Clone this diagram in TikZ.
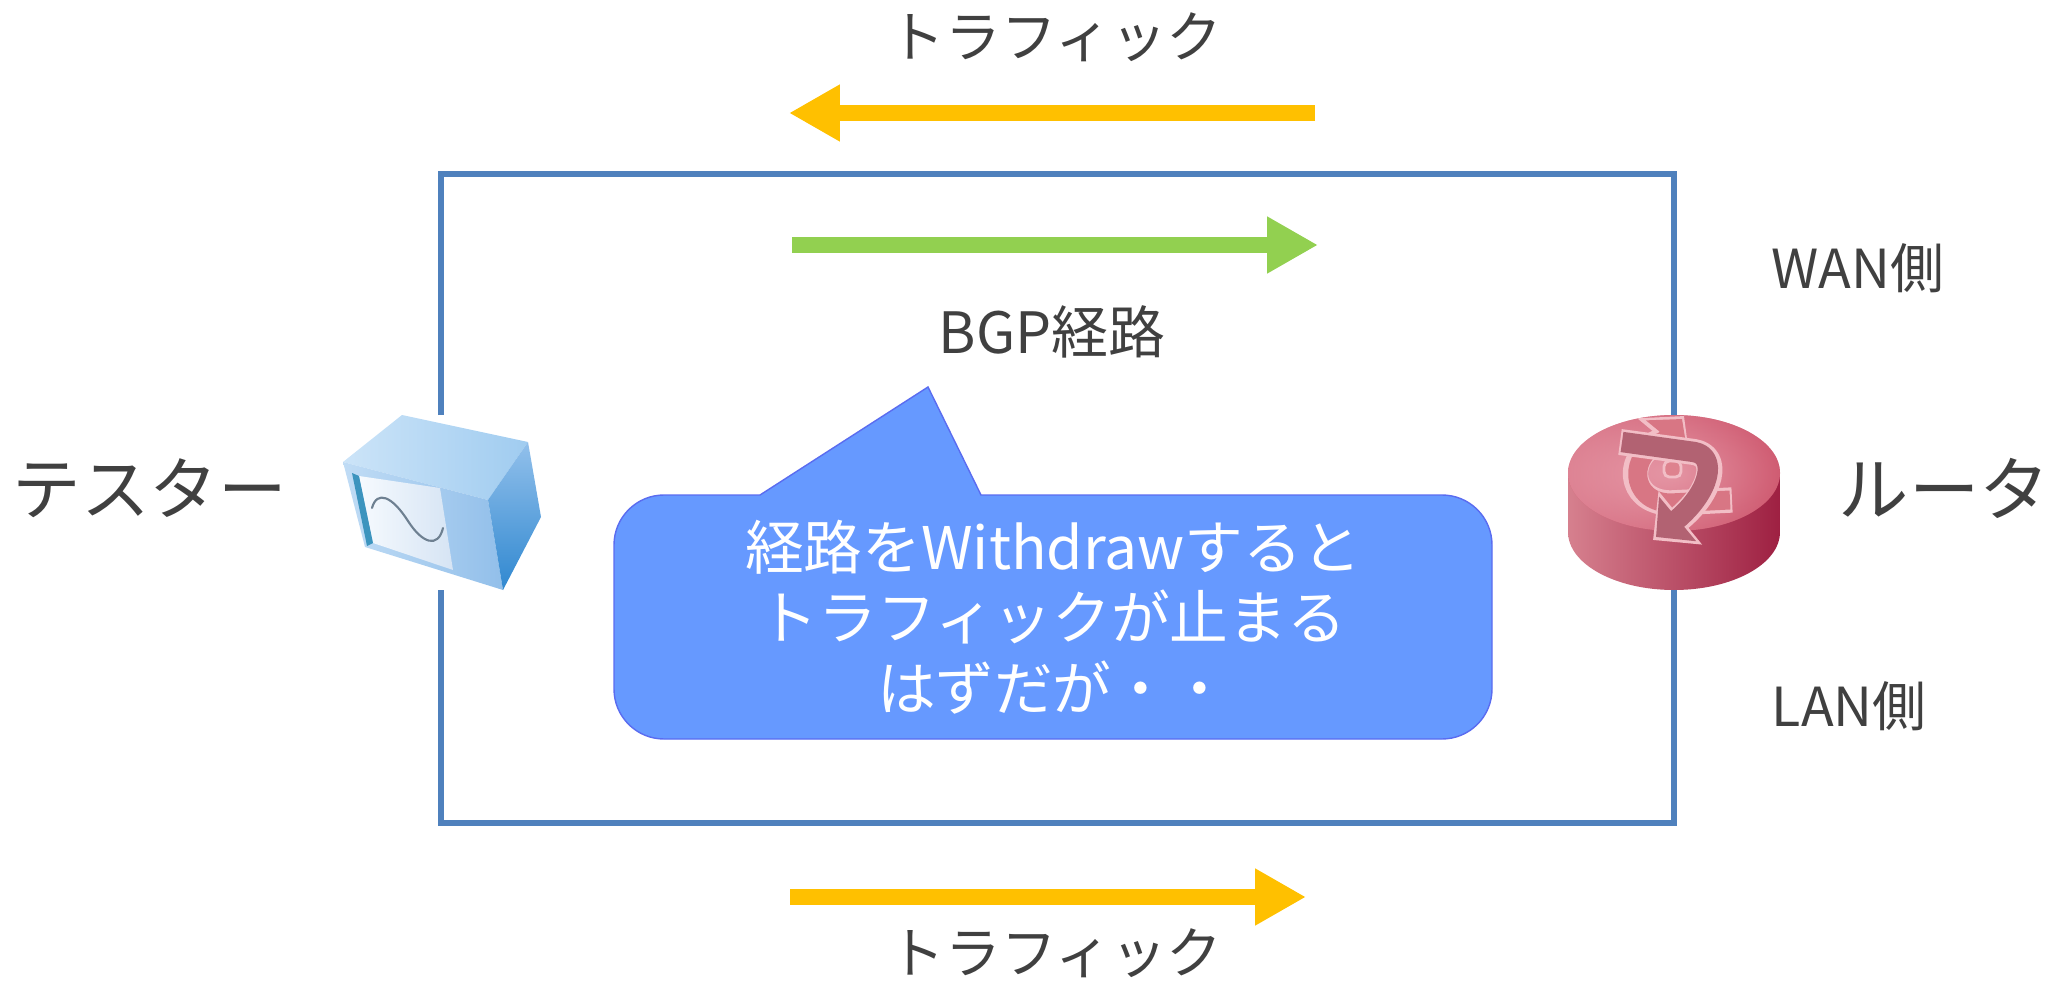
\documentclass[tikz,border=0pt]{standalone}
\usepackage{fontspec}
\setmainfont{Noto Sans CJK JP}
\usetikzlibrary{arrows.meta}

\definecolor{txt}{HTML}{404040}
\definecolor{frameblue}{HTML}{4F81BD}
\definecolor{traffic}{HTML}{FFC000}
\definecolor{bgp}{HTML}{92D050}
\definecolor{calloutfill}{HTML}{6699FF}
\definecolor{calloutline}{HTML}{5A6CF0}
% tester colours
\definecolor{tTopL}{RGB}{204,228,248}
\definecolor{tTopR}{RGB}{160,204,240}
\definecolor{tFrontL}{RGB}{192,220,245}
\definecolor{tFrontR}{RGB}{146,191,234}
\definecolor{tSideT}{RGB}{146,192,235}
\definecolor{tSideB}{RGB}{48,136,208}
\definecolor{tScreenL}{RGB}{246,250,254}
\definecolor{tScreenR}{RGB}{214,228,244}
\definecolor{tBar}{RGB}{60,148,190}
\definecolor{tWave}{RGB}{110,128,145}
% router colours
\definecolor{rSideL}{RGB}{214,128,142}
\definecolor{rSideR}{RGB}{158,32,66}
\definecolor{rTopIn}{RGB}{236,170,182}
\definecolor{rTopOut}{RGB}{205,88,110}
\definecolor{rTopL}{RGB}{236,168,180}
\definecolor{rTopR}{RGB}{210,96,118}
\definecolor{rEdge}{RGB}{242,190,198}
\definecolor{rLight}{RGB}{216,118,132}
\definecolor{rHole}{RGB}{222,130,142}
\definecolor{rDark}{RGB}{178,98,114}

\tikzset{
  label/.style={text=txt, inner sep=0pt},
  blockarrow/.style={line width=4.6pt, -{Triangle[length=14.5pt,width=15.2pt]}},
  linkline/.style={draw=frameblue, line width=1.7pt},
  callout/.style={fill=calloutfill, draw=calloutline, line width=0.4pt},
}

\begin{document}
\begin{tikzpicture}[x=0.01cm, y=-0.01cm]
\useasboundingbox (0,0) rectangle (2069,985);

% ---- link loop between tester and router ----
\coordinate (lt) at (441,174);
\coordinate (rt) at (1674,174);
\coordinate (lb) at (441,823);
\coordinate (rb) at (1674,823);
\coordinate (lgapT) at (441,415);
\coordinate (lgapB) at (441,590);
\coordinate (rgapT) at (1674,415);
\coordinate (rgapB) at (1674,590);
\draw[linkline, line join=miter] (lgapT) -- (lt) -- (rt) -- (rgapT);
\draw[linkline, line join=miter] (rgapB) -- (rb) -- (lb) -- (lgapB);

% ---- traffic / route arrows ----
\coordinate (t1s) at (1315,113);
\coordinate (t1e) at (789,113);
\draw[blockarrow, traffic] (t1s) -- (t1e);
\coordinate (gs) at (792,245);
\coordinate (ge) at (1318,245);
\draw[blockarrow, bgp] (gs) -- (ge);
\coordinate (t2s) at (790,897);
\coordinate (t2e) at (1306,897);
\draw[blockarrow, traffic] (t2s) -- (t2e);

% ---- labels ----
\node[label, font=\fontsize{15.8}{18}\selectfont] (trafficTop) at (1056,37) {トラフィック};
\node[label, font=\fontsize{15.8}{18}\selectfont] (trafficBot) at (1056,953) {トラフィック};
\node[label, font=\fontsize{16.2}{18}\selectfont] (bgpLabel) at (1052,332) {BGP経路};
\node[label, anchor=west, font=\fontsize{15.3}{17}\selectfont] (wan) at (1771,268) {WAN側};
\node[label, anchor=west, font=\fontsize{15.3}{17}\selectfont] (lan) at (1771,706) {LAN側};
\node[label, anchor=west, font=\fontsize{19.5}{22}\selectfont] (tester) at (12,488) {テスター};
\node[label, anchor=west, font=\fontsize{20}{22}\selectfont] (router) at (1838,488) {ルータ};

% ---- speech bubble ----
\path[callout] (760,495) -- (928,387) -- (981,495) -- (1442,495)
  .. controls (1469.6,495) and (1492,517.4) .. (1492,545) -- (1492,689)
  .. controls (1492,716.6) and (1469.6,739) .. (1442,739) -- (664,739)
  .. controls (636.4,739) and (614,716.6) .. (614,689) -- (614,545)
  .. controls (614,517.4) and (636.4,495) .. (664,495) -- cycle;
\node[text=white, align=center, inner sep=0pt,
      font=\fontsize{16.7}{20.1}\selectfont] (msg) at (1053,617)
  {経路をWithdrawすると\\トラフィックが止まる\\はずだが・・};

% ---- tester (box with screen) ----
\coordinate (A) at (343,462);
\coordinate (B) at (402,415);
\coordinate (C) at (528,442);
\coordinate (D) at (488,500);
\coordinate (E) at (541,517);
\coordinate (F) at (503,590);
\coordinate (G) at (365,547);
\shade[left color=tTopL, right color=tTopR] (A) -- (B) -- (C) -- (D) -- cycle;
\shade[left color=tFrontL, right color=tFrontR] (A) -- (D) -- (F) -- (G) -- cycle;
\shade[top color=tSideT, bottom color=tSideB] (D) -- (C) -- (E) -- (F) -- cycle;
\shade[left color=tScreenL, right color=tScreenR]
  (359,476) -- (440,488) -- (453,570) -- (373,543) -- cycle;
\fill[tBar] (352,473) -- (359,476) -- (373,543) -- (367,546) -- cycle;
\draw[tWave, line width=0.6pt, line cap=round]
  (372,508) .. controls (377,490) and (392,496) .. (408,521)
  .. controls (422,543) and (438,549) .. (443,528);

% ---- router (cylinder with arrows) ----
\coordinate (rc) at (1674,473);
\coordinate (rcb) at (1674,532);
\shade[left color=rSideL, right color=rSideR]
  (1568,473) -- (1568,532) arc[start angle=180, end angle=0, x radius=106, y radius=58]
  -- (1780,473) -- cycle;
\shade[inner color=rTopIn, outer color=rTopOut]
  (rc) ellipse [x radius=106, y radius=58];
\shade[left color=rTopL, right color=rTopR, opacity=0.55]
  (rc) ellipse [x radius=106, y radius=58];
% light backward arrow
\draw[rEdge, line width=7.2pt, line join=round,
      -{Triangle[length=9pt,width=19pt]}]
  (1732,500) -- (1670,503) .. controls (1626,502) and (1624,452) .. (1664,440) -- (1684,416);
\draw[rLight, line width=5.4pt, line join=round,
      -{Triangle[length=6.8pt,width=15pt]}]
  (1730,500) -- (1670,503) .. controls (1629,502) and (1627,453) .. (1664,441) -- (1682,419);
\draw[rEdge, fill=rHole, line width=0.8pt, rounded corners=1.5pt]
  (1664,461) rectangle (1681,477);
% dark forward arrow
\draw[rEdge, line width=7.4pt, line join=round,
      -{Triangle[length=10pt,width=19pt]}]
  (1620,442) -- (1694,452) .. controls (1720,456) and (1712,492) .. (1653,540);
\draw[rDark, line width=5.8pt, line join=round,
      -{Triangle[length=8pt,width=16pt]}]
  (1622,442) -- (1694,452) .. controls (1718,456) and (1710,492) .. (1656,537);
\end{tikzpicture}
\end{document}
